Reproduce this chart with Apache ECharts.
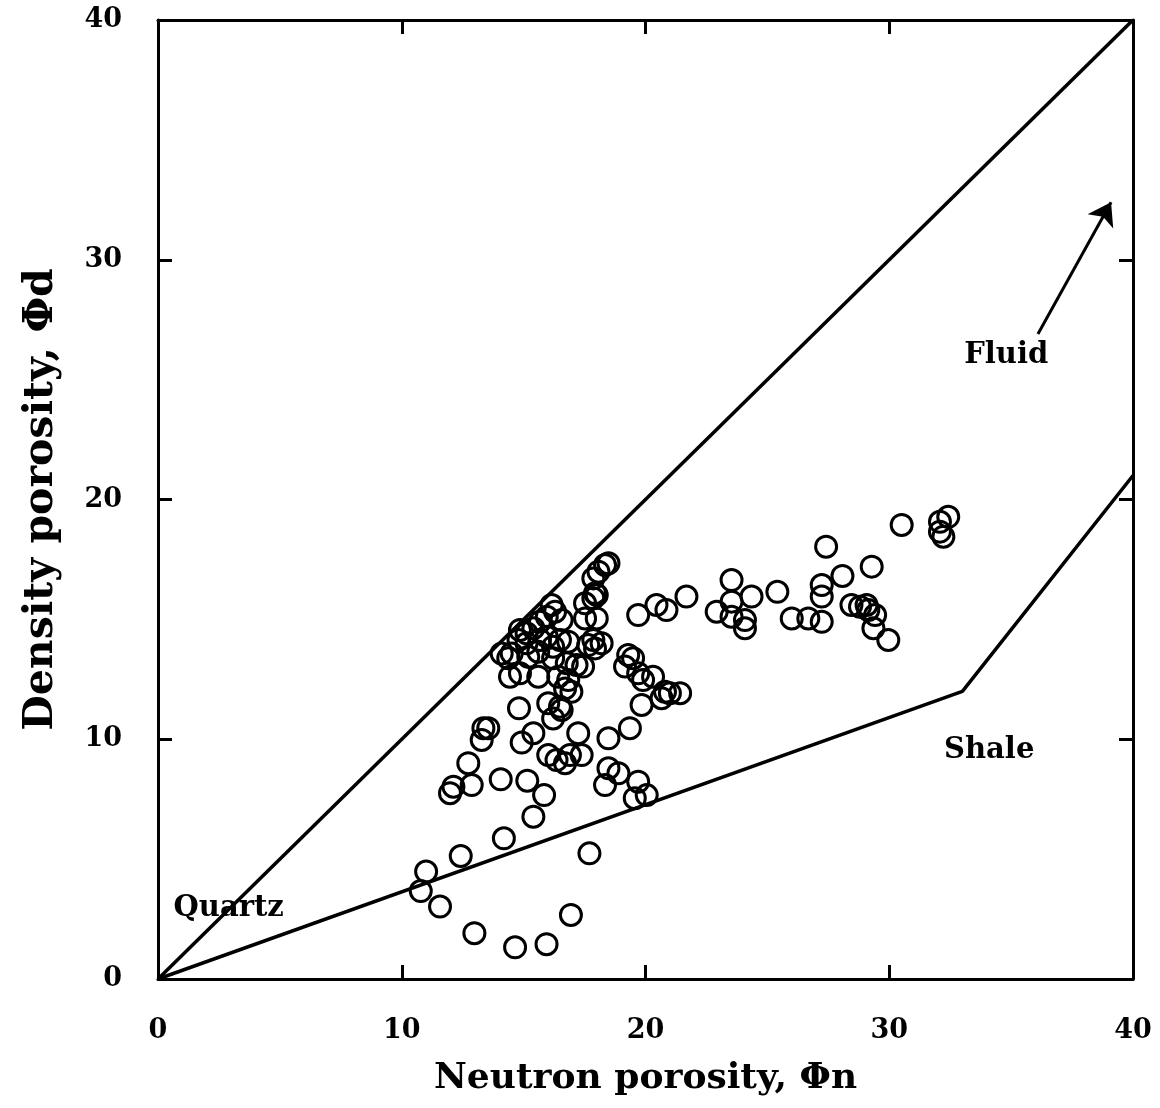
<!DOCTYPE html>
<html>
<head>
<meta charset="utf-8">
<script src="https://cdn.jsdelivr.net/npm/echarts@6/dist/echarts.min.js"></script>
<style>
  html, body { margin: 0; padding: 0; background: #fff; }
  #chart { width: 1160px; height: 1108px; }
</style>
</head>
<body>
<div id="chart"></div>
<script>
// neutron porosity (x) and density porosity (y) of each sample
const neutron = [
  11.0, 10.78, 11.57, 12.42, 14.19, 17.7, 12.98, 14.65, 15.94, 16.94,
  14.81, 13.35, 13.55, 13.28, 15.4, 14.92, 17.24, 18.48, 16.01, 16.35,
  16.7, 16.9, 17.38, 18.48, 18.89, 18.34, 12.73, 12.87, 12.12, 11.98,
  14.06, 15.15, 15.84, 15.4, 19.36, 19.84, 19.7, 19.56, 20.05, 18.34,
  18.48, 18.07, 17.86, 18.0, 17.52, 17.86, 17.52, 18.0, 17.86, 18.2,
  17.93, 16.15, 16.29, 15.95, 16.56, 15.67, 15.4, 15.12, 14.85, 14.79,
  15.12, 15.67, 15.95, 16.49, 16.83, 16.21, 14.37, 14.1, 14.51, 15.19,
  15.6, 16.21, 16.77, 17.17, 14.44, 14.85, 15.6, 16.42, 16.83, 16.7,
  16.96, 16.01, 16.49, 16.21, 16.56, 17.93, 17.65, 17.44, 19.7, 20.45,
  20.86, 21.68, 23.53, 24.35, 22.92, 23.53, 23.53, 24.08, 24.08, 19.29,
  19.49, 19.16, 19.7, 19.9, 20.31, 20.8, 21.0, 21.42, 20.66, 30.51,
  32.42, 32.08, 32.08, 32.22, 27.41, 29.28, 28.08, 25.41, 27.23, 27.23,
  26.0, 26.68, 27.23, 28.45, 28.8, 29.07, 29.14, 29.42, 29.35, 29.96
];
const density = [
  4.48, 3.67, 3.02, 5.13, 5.87, 5.24, 1.91, 1.32, 1.45, 2.67,
  11.29, 10.46, 10.46, 9.97, 10.25, 9.86, 10.25, 10.04, 9.34, 9.13,
  9.0, 9.34, 9.34, 8.79, 8.58, 8.09, 9.0, 8.09, 8.02, 7.75,
  8.33, 8.27, 7.67, 6.77, 10.46, 11.43, 8.23, 7.54, 7.67, 17.27,
  17.34, 16.99, 16.71, 16.02, 15.67, 15.88, 15.04, 15.04, 14.14, 14.0,
  13.79, 15.6, 15.32, 15.11, 14.97, 14.9, 14.63, 14.42, 14.56, 14.14,
  14.0, 14.14, 14.28, 14.14, 14.07, 13.86, 13.38, 13.58, 13.58, 13.44,
  13.65, 13.38, 13.17, 13.1, 12.61, 12.75, 12.61, 12.61, 12.47, 12.12,
  11.98, 11.5, 11.36, 10.87, 11.22, 16.09, 13.93, 13.03, 15.18, 15.6,
  15.39, 15.95, 16.64, 15.95, 15.32, 15.74, 15.11, 14.97, 14.63, 13.51,
  13.38, 13.03, 12.75, 12.47, 12.61, 11.98, 11.92, 11.92, 11.71, 18.94,
  19.28, 19.07, 18.66, 18.45, 18.03, 17.2, 16.81, 16.15, 16.43, 15.95,
  15.04, 15.04, 14.9, 15.6, 15.53, 15.6, 15.39, 15.18, 14.63, 14.14
];

// end-member lines
const quartzLine = [[0, 0], [40, 40]];
const shaleLine = [[0, 0], [33, 12], [40, 21]];
const fluidArrow = [[36.1, 26.9], [39.1, 32.4]];

// labels placed in data units
const labelNames = ['Fluid', 'Shale', 'Quartz'];
const labelX = [34.8, 34.1, 2.9];
const labelY = [26.0, 9.55, 2.96];

const FONT = 'DejaVu Serif';
const points = neutron.map((v, i) => [v, density[i]]);

const chart = echarts.init(document.getElementById('chart'));

const baseAxis = {
  type: 'value', min: 0, max: 40, interval: 10,
  splitLine: { show: false },
  axisLine: { show: true, onZero: false, lineStyle: { color: '#000', width: 3 } },
  axisTick: { show: true, inside: true, length: 14, lineStyle: { color: '#000', width: 3 } }
};

chart.setOption({
  animation: false,
  backgroundColor: '#fff',
  grid: { left: 158, right: 27, top: 20, bottom: 129 },
  xAxis: [
    Object.assign({}, baseAxis, {
      position: 'bottom',
      name: 'Neutron porosity, Φn',
      nameLocation: 'middle',
      nameGap: 82,
      nameTextStyle: { fontFamily: FONT, fontWeight: 'bold', fontSize: 36, color: '#000' },
      axisLabel: { margin: 38, fontFamily: FONT, fontWeight: 'bold', fontSize: 27, color: '#000' }
    }),
    Object.assign({}, baseAxis, { position: 'top', axisLabel: { show: false } })
  ],
  yAxis: [
    Object.assign({}, baseAxis, {
      position: 'left',
      name: 'Density porosity, Φd',
      nameLocation: 'middle',
      nameGap: 96,
      nameTextStyle: { fontFamily: FONT, fontWeight: 'bold', fontSize: 41, color: '#000' },
      axisLabel: { margin: 36, fontFamily: FONT, fontWeight: 'bold', fontSize: 27, color: '#000' }
    }),
    Object.assign({}, baseAxis, { position: 'right', axisLabel: { show: false } })
  ],
  series: [
    {
      type: 'line', data: quartzLine, symbol: 'none',
      lineStyle: { color: '#000', width: 3.5 }, silent: true
    },
    {
      type: 'line', data: shaleLine, symbol: 'none',
      lineStyle: { color: '#000', width: 3.5 }, silent: true
    },
    {
      type: 'lines', coordinateSystem: 'cartesian2d', silent: true,
      symbol: ['none', 'arrow'], symbolSize: 22,
      lineStyle: { color: '#000', width: 3, opacity: 1 },
      data: [{ coords: fluidArrow }]
    },
    {
      type: 'scatter', data: points, symbol: 'circle', symbolSize: 21,
      itemStyle: { color: 'rgba(0,0,0,0)', borderColor: '#000', borderWidth: 3, opacity: 1 }
    },
    {
      type: 'scatter', symbolSize: 0, silent: true,
      itemStyle: { opacity: 1 },
      data: labelNames.map((n, i) => ({ value: [labelX[i], labelY[i]], name: n })),
      label: {
        show: true, position: 'inside', formatter: '{b}',
        fontFamily: FONT, fontWeight: 'bold', fontSize: 29, color: '#000'
      }
    }
  ]
});
</script>
</body>
</html>
